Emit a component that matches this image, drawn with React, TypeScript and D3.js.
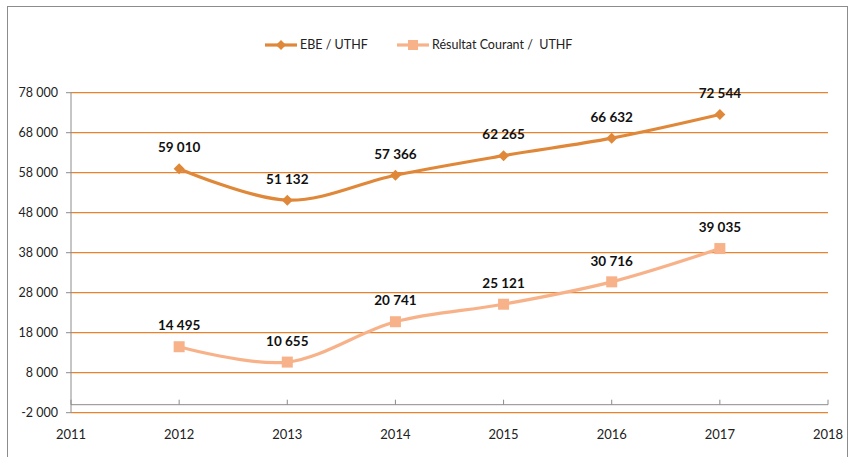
import React from "react";
import * as d3 from "d3";

const years = [2012, 2013, 2014, 2015, 2016, 2017];
const ebe = [59010, 51132, 57366, 62265, 66632, 72544];
const resultat = [14495, 10655, 20741, 25121, 30716, 39035];
const yTicks = [-2000, 8000, 18000, 28000, 38000, 48000, 58000, 68000, 78000];
const xTicks = [2011, 2012, 2013, 2014, 2015, 2016, 2017, 2018];
const seriesNames = ["EBE / UTHF", "Résultat Courant /  UTHF"];

const W = 853, H = 457;
const FONT = "Lato, 'Open Sans', sans-serif";
const C_EBE = "#E0883A";
const C_RC = "#F7B28A";
const C_GRID = "#E8822E";

const fmt = (v: number) => {
  const s = Math.abs(v).toString().replace(/\B(?=(\d{3})+(?!\d))/g, " ");
  return (v < 0 ? "-" : "") + s;
};

export default function App() {
  const x = d3.scaleLinear().domain([2011, 2018]).range([71, 828]);
  const y = d3.scaleLinear().domain([-2000, 78000]).range([412.7, 92.7]);
  const line = d3
    .line<number>()
    .x((_, i) => x(years[i]))
    .y((d) => y(d))
    .curve(d3.curveCatmullRom.alpha(0));

  const diamond = (cx: number, cy: number, r: number) =>
    `M${cx},${cy - r}L${cx + r},${cy}L${cx},${cy + r}L${cx - r},${cy}Z`;

  return (
    <svg
      width={W}
      height={H}
      style={{ position: "absolute", left: 0, top: 0 }}
      fontFamily={FONT}
    >
      <rect x={0} y={0} width={W} height={H} fill="#fff" />
      <rect x={7.5} y={6.5} width={840} height={470} fill="#fff" stroke="#8c8c8c" strokeWidth={1} />

      {/* gridlines */}
      {yTicks.map((t) => (
        <line key={t} x1={x(2011)} x2={x(2018)} y1={y(t)} y2={y(t)} stroke={C_GRID} strokeWidth={1.3} />
      ))}
      {/* y axis */}
      <line x1={x(2011)} x2={x(2011)} y1={y(78000)} y2={y(-2000)} stroke="#8c8c8c" strokeWidth={1} />
      {yTicks.map((t) => (
        <g key={"yt" + t}>
          <line x1={x(2011) - 5} x2={x(2011)} y1={y(t)} y2={y(t)} stroke="#8c8c8c" />
          <text x={58} y={y(t)} dy="0.35em" textAnchor="end" fontSize={12.5} fill="#222">
            {fmt(t)}
          </text>
        </g>
      ))}
      {/* x axis at 0 */}
      <line x1={x(2011)} x2={x(2018)} y1={y(0)} y2={y(0)} stroke="#8c8c8c" strokeWidth={1} />
      {xTicks.map((t) => (
        <g key={"xt" + t}>
          <line x1={x(t)} x2={x(t)} y1={y(0)} y2={y(0) - 5} stroke="#8c8c8c" />
          <text x={x(t)} y={434} dy="0.35em" textAnchor="middle" fontSize={13} fill="#222">
            {t}
          </text>
        </g>
      ))}

      {/* series */}
      <path d={line(ebe) || ""} fill="none" stroke={C_EBE} strokeWidth={3.2} />
      <path d={line(resultat) || ""} fill="none" stroke={C_RC} strokeWidth={3.2} />
      {ebe.map((v, i) => (
        <path key={"m1" + i} d={diamond(x(years[i]), y(v), 5.5)} fill={C_EBE} />
      ))}
      {resultat.map((v, i) => (
        <rect key={"m2" + i} x={x(years[i]) - 5.5} y={y(v) - 5.5} width={11} height={11} fill={C_RC} />
      ))}
      {ebe.map((v, i) => (
        <text key={"l1" + i} x={x(years[i])} y={y(v) - 21} dy="0.35em" textAnchor="middle" fontSize={13.5} fontWeight="bold" fill="#111">
          {fmt(v)}
        </text>
      ))}
      {resultat.map((v, i) => (
        <text key={"l2" + i} x={x(years[i])} y={y(v) - 21} dy="0.35em" textAnchor="middle" fontSize={13.5} fontWeight="bold" fill="#111">
          {fmt(v)}
        </text>
      ))}

      {/* legend */}
      <line x1={265} x2={297} y1={45} y2={45} stroke={C_EBE} strokeWidth={3.2} />
      <path d={diamond(281, 45, 5)} fill={C_EBE} />
      <text x={300} y={45} dy="0.35em" fontSize={12.5} fill="#222">{seriesNames[0]}</text>
      <line x1={397} x2={429} y1={45} y2={45} stroke={C_RC} strokeWidth={3.2} />
      <rect x={408} y={40} width={10} height={10} fill={C_RC} />
      <text x={432} y={45} dy="0.35em" fontSize={12.5} fill="#222" style={{ whiteSpace: "pre" }}>{seriesNames[1]}</text>
    </svg>
  );
}
